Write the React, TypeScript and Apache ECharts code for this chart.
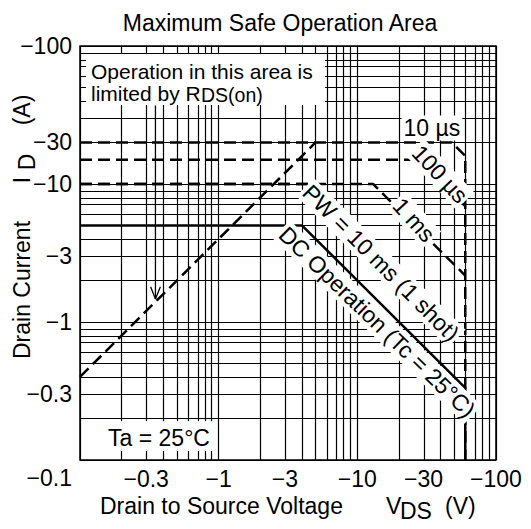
import React, { useEffect, useRef } from 'react';
import * as echarts from 'echarts';

const FONT = '"Liberation Sans", Arial, Helvetica, sans-serif';
const lg = Math.log10;

// grid lines (magnitudes of VDS and ID)
const xGridValues = [0.1, 0.2, 0.3, 0.4, 0.5, 0.6, 0.7, 0.8, 0.9, 1, 2, 3, 4, 5, 6, 7, 8, 9, 10, 20, 30, 40, 50, 60, 70, 80, 90, 100];
const yGridValues = [0.1, 0.2, 0.3, 0.4, 0.5, 0.6, 0.7, 0.8, 0.9, 1, 2, 3, 4, 5, 6, 7, 8, 9, 10, 20, 30, 40, 50, 60, 70, 80, 90, 100];

// tick labels (the corner label −0.1 is shared by both axes)
const xTickValues = [0.3, 1, 3, 10, 30, 100];
const xTickLabels = ['\u22120.3', '\u22121', '\u22123', '\u221210', '\u221230', '\u2212100'];
const yTickValues = [0.1, 0.3, 1, 3, 10, 20, 100];
const yTickLabels = ['\u22120.1', '\u22120.3', '\u22121', '\u22123', '\u221210', '\u221230', '\u2212100'];

// limit curves: |VDS| (V) and |ID| (A)
const rdsLimitV = [0.1, 5];
const rdsLimitI = [0.4, 20];
const pw10usV = [0.1, 48, 60, 60];
const pw10usI = [20, 20, 16, 0.1];
const pw100usV = [0.1, 27.7, 60];
const pw100usI = [15, 15, 6.9];
const pw1msV = [0.1, 13, 60];
const pw1msI = [10, 10, 2.17];
const pw10msV = [0.1, 5, 60];
const pw10msI = [10, 10, 0.833];
const dcV = [0.1, 4, 60, 60];
const dcI = [5, 5, 0.333, 0.1];

// arrow from the RDS(on) note to the limit line
const arrowV = [0.35, 0.35];
const arrowI = [37, 1.47];
const arrowHeadV = [0.323, 0.35, 0.38];
const arrowHeadI = [1.8, 1.47, 1.8];

// curve labels (anchored at data positions)
const curveLabels = ['10 \u00b5s', '100 \u00b5s', '1 ms', 'PW = 10 ms (1 shot)', 'DC Operation (Tc = 25\u00b0C)'];
const curveLabelV = [34.5, 39.5, 25.6, 14.8, 13.9];
const curveLabelI = [25.5, 11.8, 5.5, 2.68, 1.0];
const curveLabelRotate = [0, -47, -48, -45, -44];

const toPts = (vs: number[], is: number[]) => vs.map((v, i) => [lg(v), lg(is[i])]);

export default function App() {
  const ref = useRef<HTMLDivElement>(null);
  useEffect(() => {
    if (!ref.current) return;
    const chart = echarts.init(ref.current, undefined, { renderer: 'svg' });
    const dash = { color: '#000', width: 2.5, type: [12, 6] as any };
    const lineSeries = (name: string, vs: number[], is: number[], style: any, z = 3) => ({
      name,
      type: 'line',
      data: toPts(vs, is),
      symbol: 'none',
      showSymbol: false,
      silent: true,
      z,
      lineStyle: style,
    });
    const txt = (text: string, x: number, y: number, extra: any = {}, size = 23) => ({
      type: 'text',
      x,
      y,
      z: 20,
      rotation: extra.rotation || 0,
      style: {
        text,
        fill: '#000',
        fontSize: size,
        fontFamily: FONT,
        align: extra.align || 'left',
        verticalAlign: 'middle',
        ...(extra.bg ? { backgroundColor: '#fff', padding: [1, 2, 1, 2] } : {}),
      },
    });
    const labelFont = { fontSize: 23, color: '#000', fontFamily: FONT };
    const staticGraphic = [
      txt('Maximum Safe Operation Area', 280, 23, { align: 'center' }),
      { type: 'rect', z: 15, shape: { x: 86, y: 54, width: 239, height: 51 }, style: { fill: '#fff' } },
      txt('Operation in this area is', 91, 71, {}, 21),
      txt('limited by R', 91, 93, {}, 21),
      txt('DS(on)', 201, 95, {}, 19.5),
      { type: 'rect', z: 15, shape: { x: 101, y: 421, width: 115, height: 30 }, style: { fill: '#fff' } },
      txt('Ta = 25\u00b0C', 159, 438, { align: 'center' }),
      txt('Drain to Source Voltage', 100, 506),
      txt('V', 386, 506),
      txt('DS', 400, 511),
      txt('(V)', 445, 506),
      txt('Drain Current', 22, 290, { align: 'center', rotation: Math.PI / 2 }),
      txt('I', 22, 180, { align: 'center', rotation: Math.PI / 2 }),
      txt('D', 27, 162, { align: 'center', rotation: Math.PI / 2 }),
      txt('(A)', 22, 110, { align: 'center', rotation: Math.PI / 2 }),
    ];
    const option: any = {
      animation: false,
      grid: { left: 80, top: 46, right: 35, bottom: 69, show: true, borderColor: '#000', borderWidth: 1.5, backgroundColor: '#fff' },
      xAxis: {
        type: 'value',
        min: lg(0.1),
        max: lg(100),
        axisLine: { show: false },
        axisTick: { show: false },
        splitLine: { show: false },
        axisLabel: {
          customValues: xTickValues.map(lg),
          formatter: (v: number) => {
            const i = xTickValues.findIndex((t) => Math.abs(lg(t) - v) < 1e-6);
            return i >= 0 ? xTickLabels[i] : '';
          },
          ...labelFont,
          margin: 7,
        },
      },
      yAxis: {
        type: 'value',
        min: lg(0.1),
        max: lg(100),
        axisLine: { show: false },
        axisTick: { show: false },
        splitLine: { show: false },
        axisLabel: {
          customValues: yTickValues.map(lg),
          formatter: (v: number) => {
            const i = yTickValues.findIndex((t) => Math.abs(lg(t) - v) < 1e-6);
            if (i < 0) return '';
            return i === 0 ? '{corner|' + yTickLabels[i] + '}' : yTickLabels[i];
          },
          ...labelFont,
          margin: 8,
          rich: { corner: { ...labelFont, padding: [36, 0, 0, 0] } },
        },
      },
      series: [
        {
          name: 'grid',
          type: 'line',
          data: [],
          silent: true,
          z: 1,
          markLine: {
            silent: true,
            symbol: 'none',
            animation: false,
            label: { show: false },
            lineStyle: { color: '#000', width: 1.2, type: 'solid', opacity: 1 },
            emphasis: { disabled: true },
            data: [
              ...xGridValues.map((v) => ({ xAxis: lg(v) })),
              ...yGridValues.map((v) => ({ yAxis: lg(v) })),
            ],
          },
        },
        lineSeries('RDS(on) limit', rdsLimitV, rdsLimitI, dash),
        lineSeries('10 µs', pw10usV, pw10usI, dash),
        lineSeries('100 µs', pw100usV, pw100usI, dash),
        lineSeries('1 ms', pw1msV, pw1msI, dash),
        lineSeries('10 ms', pw10msV, pw10msI, dash),
        lineSeries('DC', dcV, dcI, { color: '#000', width: 2.5, type: 'solid' }, 4),
        lineSeries('arrow', arrowV, arrowI, { color: '#000', width: 1.3, type: 'solid' }, 4),
        lineSeries('arrowHead', arrowHeadV, arrowHeadI, { color: '#000', width: 1.3, type: 'solid' }, 4),
      ],
      graphic: staticGraphic,
    };
    chart.setOption(option);
    // curve labels placed through the chart's own axes
    const labelGraphic = curveLabels.map((t, i) => {
      const p = chart.convertToPixel({ gridIndex: 0 }, [lg(curveLabelV[i]), lg(curveLabelI[i])]) as number[];
      return txt(t, p[0], p[1], { align: 'center', rotation: (curveLabelRotate[i] * Math.PI) / 180, bg: true });
    });
    chart.setOption({ graphic: [...staticGraphic, ...labelGraphic] });
    return () => chart.dispose();
  }, []);
  return <div ref={ref} style={{ position: 'fixed', left: 0, top: 0, width: 531, height: 529, background: '#fff' }} />;
}
